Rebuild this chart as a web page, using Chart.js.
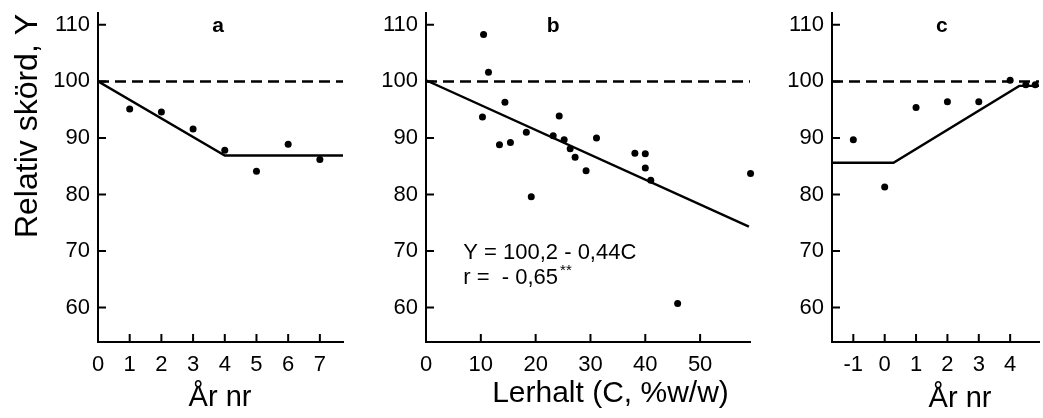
<!DOCTYPE html>
<html><head><meta charset="utf-8">
<script src="https://cdn.jsdelivr.net/npm/chart.js@4.4.1/dist/chart.umd.min.js"></script>
<style>
html,body{margin:0;padding:0;background:#fff;width:1043px;height:418px;overflow:hidden}
.p{position:absolute;top:0;height:418px}
</style></head><body>
<div class="p" style="left:0;width:360px"><canvas id="ca"></canvas></div>
<div class="p" style="left:360px;width:410px"><canvas id="cb"></canvas></div>
<div class="p" style="left:770px;width:273px"><canvas id="cc"></canvas></div>
<script>
// ---- data ----
const yTicks = [60, 70, 80, 90, 100, 110];
const aTicks = [0, 1, 2, 3, 4, 5, 6, 7];
const bTicks = [0, 10, 20, 30, 40, 50];
const cTicks = [-1, 0, 1, 2, 3, 4];

const aYear  = [1, 2, 3, 4, 5, 6, 7];
const aYield = [95.1, 94.6, 91.6, 87.8, 84.1, 88.9, 86.2];
const aFitX  = [0, 4, 7.73];
const aFitY  = [100, 86.9, 86.9];

const bClay  = [10.5, 11.4, 10.3, 14.4, 13.4, 15.4, 18.3, 19.2, 23.2, 24.3, 25.2, 26.3, 27.2, 29.2, 31.1, 38.1, 40.0, 40.0, 41.0, 45.9, 59.2];
const bYield = [108.3, 101.6, 93.7, 96.3, 88.8, 89.2, 91.0, 79.6, 90.4, 93.9, 89.7, 88.1, 86.6, 84.2, 90.0, 87.3, 87.2, 84.7, 82.5, 60.7, 83.7];
const bFitX  = [0, 58.9];
const bFitY  = [100.2, 74.3];

const cYear  = [-1, 0, 1, 2, 3, 4, 4.5, 4.8];
const cYield = [89.7, 81.3, 95.4, 96.4, 96.4, 100.2, 99.4, 99.4];
const cFitX  = [-1.68, 0.28, 4.29, 4.92];
const cFitY  = [85.6, 85.6, 99.2, 99.2];

const refLevel = 100;
const yMin = 53.9, yMax = 112.1;
const xRangeA = [0, 7.73], xRangeB = [0, 59.1], xRangeC = [-1.68, 4.92];

const FONT = "'Liberation Sans', Arial, Helvetica, sans-serif";
const zip = (xs, ys) => xs.map((x, i) => ({x, y: ys[i]}));

// ---- plugins ----
const inwardTicks = {
  id: 'inwardTicks',
  afterDatasetsDraw(chart) {
    const {ctx, chartArea} = chart;
    const xs = chart.scales.x, ys = chart.scales.y;
    ctx.save();
    ctx.strokeStyle = '#000';
    ctx.lineWidth = 2;
    ctx.beginPath();
    xs.ticks.forEach(t => {
      const px = xs.getPixelForValue(t.value);
      if (Math.abs(px - chartArea.left) < 2) return;
      ctx.moveTo(px, chartArea.bottom);
      ctx.lineTo(px, chartArea.bottom - 8);
    });
    ys.ticks.forEach(t => {
      const py = ys.getPixelForValue(t.value);
      ctx.moveTo(chartArea.left, py);
      ctx.lineTo(chartArea.left + 8, py);
    });
    ctx.stroke();
    ctx.restore();
  }
};

const panelText = {
  id: 'panelText',
  afterDraw(chart, args, opts) {
    const {ctx} = chart;
    (opts.items || []).forEach(it => {
      let px = it.px, py = it.py;
      if (it.x !== undefined) px = chart.scales.x.getPixelForValue(it.x);
      if (it.y !== undefined) py = chart.scales.y.getPixelForValue(it.y);
      ctx.save();
      ctx.fillStyle = '#000';
      ctx.font = it.font;
      ctx.textAlign = it.align || 'left';
      ctx.textBaseline = 'alphabetic';
      ctx.translate(px, py);
      if (it.rotate) ctx.rotate(it.rotate);
      ctx.fillText(it.text, 0, 0);
      if (it.sup) {
        const w = ctx.measureText(it.text).width;
        ctx.font = it.supFont;
        ctx.textAlign = 'left';
        ctx.fillText(it.sup, w + 2, -9);
      }
      ctx.restore();
    });
  }
};

function scaleOpts(range, ticks, fitSize, isX) {
  return {
    type: 'linear',
    min: range[0], max: range[1],
    afterBuildTicks: s => { s.ticks = ticks.map(v => ({value: v})); },
    grid: {display: false, drawTicks: false},
    border: {display: true, color: '#000', width: 2},
    ticks: {
      color: '#000',
      font: {family: FONT, size: 22},
      padding: isX ? 10 : 8,
      autoSkip: false, maxRotation: 0,
      callback: v => String(v)
    },
    afterFit: s => {
      if (isX) s.height = fitSize; else s.width = fitSize;
      s.paddingLeft = 0; s.paddingRight = 0; s.paddingTop = 0; s.paddingBottom = 0;
    }
  };
}

function makePanel(id, cfg) {
  const datasets = [
    {data: zip([cfg.xRange[0], cfg.xRange[1]], [refLevel, refLevel]), showLine: true,
     borderColor: '#000', borderWidth: 2.5, borderDash: [11, 6], pointRadius: 0},
    {data: zip(cfg.fitX, cfg.fitY), showLine: true, borderColor: '#000', borderWidth: 2.4,
     pointRadius: 0, tension: 0},
    {data: zip(cfg.px, cfg.py), showLine: false, pointRadius: 3.5, pointBackgroundColor: '#000',
     pointBorderWidth: 0, borderColor: '#000', clip: false}
  ];
  return new Chart(document.getElementById(id), {
    type: 'scatter',
    data: {datasets},
    options: {
      responsive: true, maintainAspectRatio: false, animation: false, devicePixelRatio: 1,
      layout: {padding: {left: 0, right: cfg.padRight, top: 13, bottom: 0}},
      scales: {
        x: scaleOpts(cfg.xRange, cfg.xTicks, 76, true),
        y: scaleOpts([yMin, yMax], yTicks, cfg.yWidth, false)
      },
      plugins: {
        legend: {display: false}, tooltip: {enabled: false},
        panelText: {items: cfg.texts}
      }
    },
    plugins: [inwardTicks, panelText]
  });
}

makePanel('ca', {
  xRange: xRangeA, xTicks: aTicks, yWidth: 98, padRight: 17,
  fitX: aFitX, fitY: aFitY, px: aYear, py: aYield,
  texts: [
    {text: 'a', x: 3.79, y: 108.8, font: `bold 21px ${FONT}`, align: 'center'},
    {text: 'Relativ skörd, Y', px: 37, py: 126, rotate: -Math.PI / 2, font: `32px ${FONT}`, align: 'center'},
    {text: 'År nr', px: 220, py: 406, font: `29px ${FONT}`, align: 'center'}
  ]
});

makePanel('cb', {
  xRange: xRangeB, xTicks: bTicks, yWidth: 66, padRight: 20,
  fitX: bFitX, fitY: bFitY, px: bClay, py: bYield,
  texts: [
    {text: 'b', x: 23.2, y: 108.8, font: `bold 21px ${FONT}`, align: 'center'},
    {text: 'Y = 100,2 - 0,44C', x: 6.8, y: 68.5, font: `22px ${FONT}`},
    {text: 'r =  - 0,65', x: 6.8, y: 64.1, font: `22px ${FONT}`, sup: '**', supFont: `15px ${FONT}`},
    {text: 'Lerhalt (C, %w/w)', px: 250.5, py: 402, font: `30px ${FONT}`, align: 'center'}
  ]
});

makePanel('cc', {
  xRange: xRangeC, xTicks: cTicks, yWidth: 62, padRight: 0,
  fitX: cFitX, fitY: cFitY, px: cYear, py: cYield,
  texts: [
    {text: 'c', x: 1.82, y: 108.8, font: `bold 21px ${FONT}`, align: 'center'},
    {text: 'År nr', px: 190, py: 407, font: `29px ${FONT}`, align: 'center'}
  ]
});
</script>
</body></html>
